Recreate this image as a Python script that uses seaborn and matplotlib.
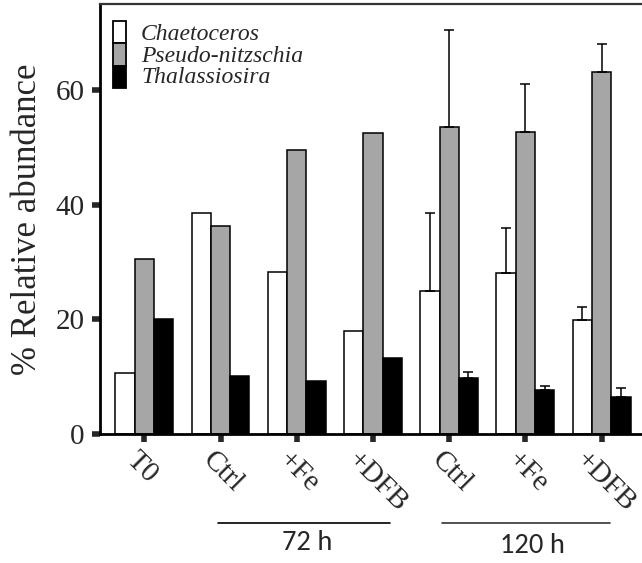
import numpy as np
import pandas as pd
import matplotlib
matplotlib.use("Agg")
import matplotlib.pyplot as plt
import matplotlib.transforms as mtransforms
from matplotlib.patches import Rectangle
import seaborn as sns

# ---- data ----
conditions = ["T0", "72h Ctrl", "72h +Fe", "72h +DFB", "120h Ctrl", "120h +Fe", "120h +DFB"]
tick_labels = ["T0", "Ctrl", "+Fe", "+DFB", "Ctrl", "+Fe", "+DFB"]
species = ["Chaetoceros", "Pseudo-nitzschia", "Thalassiosira"]
chaetoceros = [10.7, 38.5, 28.3, 18.0, 25.0, 28.1, 19.9]
pseudo_nitzschia = [30.6, 36.2, 49.6, 52.5, 53.5, 52.6, 63.1]
thalassiosira = [20.0, 10.2, 9.3, 13.3, 9.7, 7.6, 6.4]
# upper error (sd), only for 120 h
err_chaetoceros = [0, 0, 0, 0, 13.5, 7.9, 2.2]
err_pseudo = [0, 0, 0, 0, 17.0, 8.4, 4.9]
err_thalassiosira = [0, 0, 0, 0, 1.2, 0.8, 1.7]
group_labels = ["72 h", "120 h"]

values = [chaetoceros, pseudo_nitzschia, thalassiosira]
errors = [err_chaetoceros, err_pseudo, err_thalassiosira]
rows = []
for sp, vals in zip(species, values):
    for c, v in zip(conditions, vals):
        rows.append({"condition": c, "species": sp, "value": v})
df = pd.DataFrame(rows)

sns.set_style("ticks")
plt.rcParams["font.family"] = ["Liberation Serif", "DejaVu Serif"]

W, H = 642, 563
fig = plt.figure(figsize=(W / 100, H / 100), dpi=100)
ax = fig.add_axes([100 / W, 1 - 434 / H, 1 - 100 / W, (434 - 4) / H])

palette = {"Chaetoceros": "white", "Pseudo-nitzschia": "#a6a6a6", "Thalassiosira": "black"}
sns.barplot(data=df, x="condition", y="value", hue="species", order=conditions,
            hue_order=species, palette=palette, width=0.76, errorbar=None,
            edgecolor="black", linewidth=1.1, saturation=1, ax=ax, legend=False)

# error bars (upper only)
for i, sp in enumerate(species):
    cont = ax.containers[i]
    for j, bar in enumerate(cont):
        e = errors[i][j]
        if e > 0:
            xc = bar.get_x() + bar.get_width() / 2
            h = bar.get_height()
            ax.errorbar([xc], [h], yerr=[[0], [e]], fmt="none", ecolor="black",
                        elinewidth=1.1, capsize=3.6, capthick=1.1, zorder=3)

ax.set_xlim(-0.581, 6.53)
ax.set_ylim(0, 75)
ax.set_yticks([0, 20, 40, 60])
ax.set_xticks(range(len(conditions)))
ax.set_xticklabels([])
for i, lab in enumerate(tick_labels):
    dx = -31 if lab == "+DFB" else -23
    ax.annotate(lab, xy=(i, 0), xycoords=("data", "axes fraction"),
                xytext=(dx, -13), textcoords="offset pixels",
                rotation=-45, ha="left", va="top", fontsize=21,
                annotation_clip=False)
ax.tick_params(axis="y", labelsize=21, width=4, length=6, pad=5)
ax.tick_params(axis="x", width=4, length=6)
ax.set_xlabel("")
ax.set_ylabel("% Relative abundance", fontsize=25, labelpad=8)

for s in ["left", "bottom", "top"]:
    ax.spines[s].set_linewidth(2)
    ax.spines[s].set_color("black")
ax.spines["top"].set_color("#333333")
ax.spines["top"].set_linewidth(1.6)
ax.spines["right"].set_visible(False)

# legend drawn as stacked boxes in figure pixel coordinates
def fx(px):
    return px / W

def fy(py):
    return 1 - py / H

box_top, box_h = 21, 22.3
baselines = [40, 61.5, 83]
for k, sp in enumerate(species):
    y0 = box_top + k * box_h
    fig.patches.append(Rectangle((fx(112.5), fy(y0 + box_h)), fx(125.5) - fx(112.5),
                                 (box_h) / H, transform=fig.transFigure,
                                 facecolor=palette[sp], edgecolor="black", linewidth=1.3,
                                 zorder=5))
    fig.text(fx(141), fy(baselines[k]), sp, ha="left", va="baseline", fontsize=17,
             style="italic", family=["Liberation Serif", "DejaVu Serif"])

# group annotations
lines_px = [(218, 390, 522.5, "black"), (442, 610, 522.5, "#333333")]
text_px = [(307.5, 549.5), (532.5, 553)]
for lab, (a, b, ly, col), (tx, ty) in zip(group_labels, lines_px, text_px):
    fig.add_artist(plt.Line2D([fx(a), fx(b)], [fy(ly), fy(ly)], transform=fig.transFigure,
                              color=col, lw=1.2))
    fig.text(fx(tx), fy(ty), lab, ha="center", va="baseline", fontsize=20.5,
             family=["Carlito", "DejaVu Sans"])

fig.savefig("out.png", dpi=100)
